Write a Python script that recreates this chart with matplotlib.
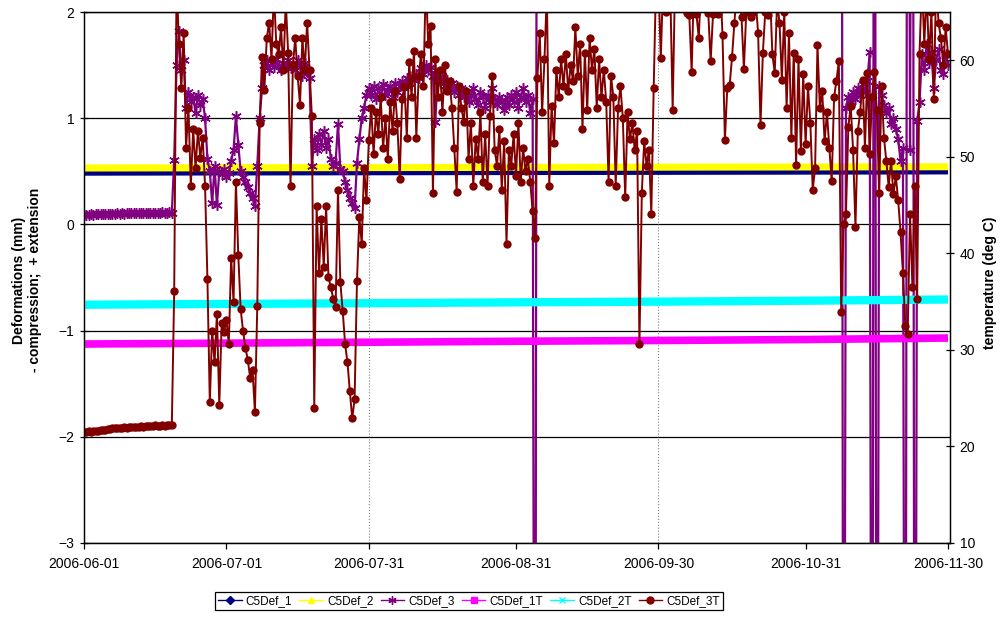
import matplotlib
matplotlib.use('Agg')
from matplotlib import pyplot as plt
from matplotlib.lines import Line2D
import matplotlib.dates as mdates
import numpy as np
import pandas as pd

plt.rcParams['font.family'] = ['Liberation Sans', 'DejaVu Sans']

# slow series, read at month boundaries
ref_dates = ['2006-06-01', '2006-07-01', '2006-08-01', '2006-09-01',
             '2006-10-01', '2006-11-01', '2006-11-30']
def1 = [0.478, 0.480, 0.482, 0.484, 0.486, 0.488, 0.490]
def2 = [0.525, 0.527, 0.529, 0.531, 0.533, 0.535, 0.537]
def1_t = [30.61, 30.70, 30.80, 30.90, 30.98, 31.08, 31.23]
def2_t = [34.68, 34.76, 34.84, 34.93, 35.00, 35.10, 35.22]

# C5Def_3 (mm), 12-hourly; off scale between early Sep and early Nov
def3_a_start = '2006-06-01 00:00'
def3_a = [
    0.09, 0.09, 0.09, 0.095, 0.09, 0.095, 0.095, 0.10, 0.095, 0.10,
    0.10, 0.10, 0.10, 0.10, 0.105, 0.10, 0.105, 0.10, 0.105, 0.105,
    0.105, 0.11, 0.105, 0.11, 0.105, 0.11, 0.11, 0.11, 0.105, 0.11,
    0.11, 0.11, 0.11, 0.115, 0.11, 0.11, 0.115, 0.11,
    0.61, 1.50, 1.82, 1.45, 1.55, 1.10, 1.25, 1.15, 1.20, 1.05,
    1.22, 1.12, 1.18, 1.00, 0.62, 0.50, 0.20, 0.55, 0.18, 0.50,
    0.47, 0.52, 0.45, 0.48, 0.60, 0.70, 1.02, 0.75, 0.50, 0.45,
    0.40, 0.35, 0.30, 0.25, 0.17, 0.55, 1.00, 1.28, 1.50, 1.55,
    1.45, 1.52, 1.48, 1.56, 1.50, 1.45, 1.52, 1.48, 1.55, 1.47,
    1.50, 1.45,
    1.55, 1.48, 1.40, 1.52, 1.45, 1.38, 0.55, 0.80, 0.70, 0.85,
    0.75, 0.88, 0.72, 0.80, 0.62, 0.55, 0.58, 0.95, 0.52, 0.50,
    0.40, 0.32, 0.25, 0.20, 0.15, 0.58, 0.80, 1.00, 1.10, 1.22,
    1.28,
    1.22, 1.30, 1.18, 1.28, 1.20, 1.32, 1.22, 1.27, 1.30, 1.20,
    1.33, 1.25, 1.30, 1.35, 1.28, 1.38, 1.33, 1.40, 1.36, 1.42,
    1.38, 1.47, 1.42, 1.50, 1.45, 1.48, 1.40, 0.96, 1.42, 1.35,
    1.40, 1.30, 1.36, 1.28, 1.33, 1.25, 1.30, 1.22, 1.28, 1.20,
    1.25, 1.15, 1.22, 1.28, 1.18, 1.12, 1.25, 1.20, 1.10, 1.22,
    1.15, 1.28, 1.18, 1.12, 1.20, 1.15, 1.08, 1.20, 1.12,
    1.22, 1.15, 1.25, 1.10, 1.20, 1.28, 1.15, 1.22, 1.05, 1.18,
    -9.0, 9.0,
]
def3_b_start = '2006-11-07 12:00'
def3_b = [
    9.0, -9.0, 1.10, 1.20, 1.15, 1.25, 1.18, 1.28, 1.22, 1.32,
    1.25, 1.35, 1.62, -9.0, 9.0, -9.0, 1.30, 1.22, 1.12, 1.05,
    1.10, 0.95, 1.00, 0.90, 0.80, 0.60, 0.72, -9.0, 9.0, 0.70,
    9.0, -9.0, 0.97, 1.15, 1.60, 1.45, 1.70, 1.52, 1.62, 1.28,
    1.55, 1.65, 1.45, 1.42, 1.60, 1.50,
]

# C5Def_3T (deg C), 12-hourly, in pieces
t3_a_start = '2006-06-01 00:00'
t3_a = [
    21.5, 21.5, 21.55, 21.5, 21.6, 21.6, 21.65, 21.7, 21.7, 21.75,
    21.8, 21.85, 21.9, 21.9, 21.95, 21.9, 21.95, 22.0, 21.95, 22.0,
    22.0, 22.05, 22.0, 22.05, 22.1, 22.05, 22.1, 22.15, 22.1, 22.15,
    22.2, 22.15, 22.1, 22.2, 22.15, 22.2, 22.2, 22.2,
]
t3_b_start = '2006-06-20 00:00'
t3_b = [
    36.1, 68.3, 61.7, 57.1, 62.8, 50.9, 55.1, 47.0, 52.9, 48.8,
    52.7, 49.9, 52.0, 47.0, 37.3, 24.6, 32.0, 28.7, 33.7, 24.3,
    32.8, 31.9, 33.1, 30.6, 39.5, 35.0, 47.4, 39.8, 34.2, 32.0,
    30.2, 29.0, 27.1, 27.9, 23.6, 34.5, 53.5, 60.3, 56.9, 62.3,
    63.9, 60.1, 67.2, 61.7, 60.6, 63.4, 59.0, 66.1, 60.8, 47.0,
    59.5, 62.3,
]
t3_c_start = '2006-07-16 00:00'
t3_c = [
    58.4, 55.4, 62.3, 59.0, 63.9, 59.0, 54.2, 24.0, 44.9, 38.0,
    43.6, 38.6, 44.9, 37.5, 36.5, 35.3, 34.4, 46.6, 37.0, 34.0,
    30.6, 28.7, 25.7, 22.9, 24.9, 37.1, 43.8, 41.0, 48.8, 45.5,
    51.7,
]
t3_d_start = '2006-07-31 12:00'
t3_d = [
    55.1, 50.3, 54.6, 52.4, 56.2, 50.9, 54.0, 49.8, 55.7, 52.7,
    56.8, 53.5, 47.7, 56.0, 57.3, 52.0, 59.8, 56.2, 61.0, 52.0,
    58.4, 60.6, 57.3, 68.3, 61.7, 63.6, 46.3, 60.1, 56.2, 59.0,
    54.6, 59.5, 56.8, 57.9, 55.1, 50.9, 46.4, 57.3, 55.1, 53.6,
    56.8, 49.8, 53.5, 47.0, 51.8, 49.8, 54.6, 47.4, 52.4, 47.0,
    54.2, 58.4, 50.7, 49.1, 52.9, 46.6, 51.6, 41.0, 50.7,
]
t3_e_start = '2006-08-30 00:00'
t3_e = [
    49.1, 52.4, 48.0, 53.5, 47.4, 50.9, 48.5, 49.8, 47.4, 44.4,
    41.6, 58.2, 62.8, 54.6, 60.1, 67.2, 47.0, 55.3, 51.4, 59.0,
    56.2, 60.1, 57.3, 60.6, 56.8, 59.5, 57.9, 63.4, 58.4, 61.7,
    52.9, 60.8, 54.9, 62.3, 59.0, 61.2, 55.1, 60.1, 56.2, 59.0,
    55.7, 47.4, 58.4, 56.2, 47.0, 55.1, 57.3, 54.0, 45.8, 54.6,
    51.8, 53.5, 50.7, 52.7, 30.6, 46.3, 51.6, 49.1, 50.7, 44.1,
    57.1, 68.3, 68.3, 60.2, 68.3, 65.0, 68.3, 67.2, 54.9, 68.3,
    68.3, 67.2, 68.3, 68.3, 64.9, 64.7, 58.8, 68.3, 64.8, 62.3,
    68.3, 68.3, 67.2, 64.9, 59.9, 64.8, 68.3, 64.8, 68.3, 62.6,
    51.7, 57.1,
]
t3_f_start = '2006-10-15 00:00'
t3_f = [
    57.4, 60.3, 63.9, 67.2, 68.3, 64.5, 59.1, 65.0, 67.2, 64.5,
    65.0, 66.1, 62.8, 53.3, 60.8, 65.0, 64.7, 67.2, 60.6, 58.7,
    66.1, 63.9, 58.0, 65.0, 55.1, 62.8, 52.0, 60.8, 49.2, 60.1,
    50.6, 58.6, 51.3, 57.3, 53.5, 46.6, 48.8, 61.6, 55.1, 56.8,
    51.6, 54.6, 50.9, 47.5, 56.2, 57.9, 59.9, 33.9, 43.0, 44.1,
    53.1, 55.3, 50.7, 42.7, 52.7, 54.6, 58.0, 50.9, 58.7, 50.3,
    56.2, 58.8, 54.9, 46.3, 57.3, 52.0, 49.6, 46.9, 49.6, 46.1,
    48.0, 45.5, 42.2, 38.0, 32.5, 31.6, 44.1, 36.5, 47.0, 35.3,
    60.7, 68.3, 61.7, 67.2, 60.1, 65.0, 56.0, 68.3, 63.9, 62.3,
    59.5, 63.4, 60.6,
]

event_dates = ['2006-07-31', '2006-09-29 22:00']
tick_dates = ['2006-06-01', '2006-07-01', '2006-07-31', '2006-08-31',
              '2006-09-30', '2006-10-31', '2006-11-30']

NAVY = '#000080'
YELLOW = '#FFFF00'
PURPLE = '#800080'
MAGENTA = '#FF00FF'
CYAN = '#00FFFF'
DARKRED = '#800000'
STAR = (6, 2, 0)


def series(start, values):
    idx = pd.date_range(start, periods=len(values), freq='12h')
    return pd.Series(values, index=idx)


def stitch(*parts):
    return pd.concat([series(s, v) for s, v in parts])


fig = plt.figure(figsize=(10.01, 6.17), dpi=100)
ax = fig.add_axes([84 / 1001, 74 / 617, 866 / 1001, 531 / 617])
ax2 = ax.twinx()

ref = pd.to_datetime(ref_dates)

# deformations, left axis
ax.plot(ref, def1, color=NAVY, lw=3.0, solid_capstyle='butt', zorder=3)
ax.plot(ref, def2, color=YELLOW, lw=6.0, solid_capstyle='butt', zorder=2)
d3a = series(def3_a_start, def3_a)
d3b = series(def3_b_start, def3_b)
for d3 in (d3a, d3b):
    ax.plot(d3.index, d3.values, color=PURPLE, lw=1.6, marker=STAR,
            markersize=7.5, markeredgewidth=1.1, zorder=4)

# temperatures, right axis
ax2.plot(ref, def1_t, color=MAGENTA, lw=5.5, solid_capstyle='butt')
ax2.plot(ref, def2_t, color=CYAN, lw=6.0, solid_capstyle='butt')
t3 = stitch((t3_a_start, t3_a), (t3_b_start, t3_b), (t3_c_start, t3_c),
            (t3_d_start, t3_d), (t3_e_start, t3_e), (t3_f_start, t3_f))
ax2.plot(t3.index, t3.values, color=DARKRED, lw=1.4, marker='o',
         markersize=6, markeredgewidth=0)

for d in event_dates:
    ax.axvline(pd.Timestamp(d), color='#808080', lw=0.8, ls=':', zorder=1)

ax.set_xlim(pd.Timestamp('2006-06-01'), pd.Timestamp('2006-11-30 10:00'))
ax.set_ylim(-3, 2)
ax2.set_ylim(10, 65)

ax.set_yticks([-3, -2, -1, 0, 1, 2])
ax.yaxis.grid(True, color='black', lw=0.9)
ax.set_axisbelow(True)
ax2.set_yticks([10, 20, 30, 40, 50, 60])
ax.set_xticks(pd.to_datetime(tick_dates))
ax.xaxis.set_major_formatter(mdates.DateFormatter('%Y-%m-%d'))

ax.tick_params(axis='y', direction='inout', length=6, width=0.9, labelsize=10, pad=4)
ax2.tick_params(axis='y', direction='inout', length=6, width=0.9, labelsize=10, pad=4)
ax.tick_params(axis='x', direction='out', length=4, width=0.9, labelsize=10, pad=6)
for a in (ax, ax2):
    for sp in a.spines.values():
        sp.set_linewidth(0.9)

fig.text(27 / 1001, 1 - 280 / 617, 'Deformations (mm)\n- compression;  + extension',
         rotation=90, ha='center', va='center', fontsize=10, fontweight='bold',
         multialignment='center', linespacing=1.15)
fig.text(990 / 1001, 1 - 283 / 617, 'temperature (deg C)', rotation=90,
         ha='center', va='center', fontsize=10, fontweight='bold')

handles = [
    Line2D([], [], color=NAVY, marker='D', markersize=4, lw=1),
    Line2D([], [], color=YELLOW, marker='^', markersize=5, lw=1),
    Line2D([], [], color=PURPLE, marker=STAR, markersize=6, lw=1),
    Line2D([], [], color=MAGENTA, marker='s', markersize=4.5, lw=1),
    Line2D([], [], color=CYAN, marker='x', markersize=5, lw=1),
    Line2D([], [], color=DARKRED, marker='o', markersize=5, lw=1),
]
labels = ['C5Def_1', 'C5Def_2', 'C5Def_3', 'C5Def_1T', 'C5Def_2T', 'C5Def_3T']
leg = fig.legend(handles, labels, loc='center', ncol=6,
                 bbox_to_anchor=(469 / 1001, 1 - 601 / 617), fontsize=8.5,
                 frameon=True, fancybox=False, framealpha=1, edgecolor='black',
                 handlelength=2.0, handletextpad=0.35, columnspacing=0.6,
                 borderpad=0.25, borderaxespad=0)
leg.get_frame().set_linewidth(0.9)

fig.savefig('out.png', dpi=100)
